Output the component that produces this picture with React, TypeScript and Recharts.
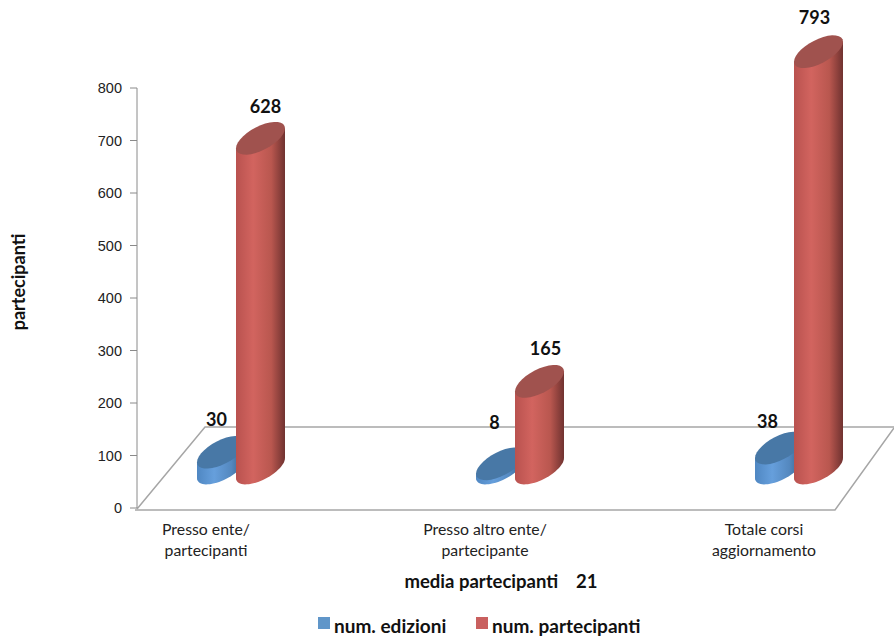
import React from "react";
import { BarChart, Bar, XAxis, YAxis, Legend, Customized } from "recharts";

const categories = ["Presso ente/\npartecipanti", "Presso altro ente/\npartecipante", "Totale corsi\naggiornamento"];
const edizioni = [30, 8, 38];
const partecipanti = [628, 165, 793];
const yTicks = [0, 100, 200, 300, 400, 500, 600, 700, 800];
const seriesNames = ["num. edizioni", "num. partecipanti"];
const xTitle = "media partecipanti    21";
const yTitle = "partecipanti";

// hand placement of the value labels, relative to the centre of each cylinder's top
const edizioniNudge = [[-5, -33], [-6, -42], [-12, -27]];
const partecipantiNudge = [[5, -32], [6, -33], [-4, -35]];

const data = categories.map((name, i) => ({
  name,
  edizioni: edizioni[i],
  partecipanti: partecipanti[i],
}));

const FONT = "Lato, sans-serif";
const W = 894;
const H = 641;
const PLOT = { left: 137, top: 88, right: 835, bottom: 508 };
const LEGEND_H = 24;

// projection of the bars onto the receding floor
const DEPTH_X = 34.5;
const DEPTH_Y = 40;
const RX = 24.5;
const SHEAR = 10;
const MINOR = 13;

const rim = (cx: number, cy: number, from: number, to: number) => {
  const out: string[] = [];
  const steps = 32;
  for (let i = 0; i <= steps; i++) {
    const t = from + ((to - from) * i) / steps;
    const px = cx + RX * Math.cos(t);
    const py = cy - SHEAR * Math.cos(t) + MINOR * Math.sin(t);
    out.push(`${px.toFixed(2)} ${py.toFixed(2)}`);
  }
  return out;
};

const Cylinder = (props: any) => {
  const { x, y, width, height, value, index, gradient, cap, nudge } = props;
  const cx = x + width / 2 + DEPTH_X;
  const top = y - DEPTH_Y;
  const base = y + height - DEPTH_Y;
  const front = rim(cx, base, 0, Math.PI);
  const side =
    `M ${cx - RX} ${top + SHEAR} L ${cx - RX} ${base + SHEAR} L ` +
    front.slice().reverse().join(" L ") +
    ` L ${cx + RX} ${top - SHEAR} Z`;
  const capPath = "M " + rim(cx, top, 0, Math.PI * 2).join(" L ") + " Z";
  const [nx, ny] = nudge[index];
  return (
    <g>
      <path d={side} fill={`url(#${gradient})`} />
      <path d={capPath} fill={cap} />
      <text
        x={cx + nx}
        y={top + ny}
        textAnchor="middle"
        dominantBaseline="central"
        fontFamily={FONT}
        fontWeight={700}
        fontSize={18}
        fill="#111"
      >
        {value}
      </text>
    </g>
  );
};

const Floor = () => (
  <g fill="none" stroke="#a6a6a6" strokeWidth={1.5}>
    <path d={`M ${PLOT.left} ${PLOT.bottom + 1} L 205 427 L 894 427`} />
    <path d={`M ${PLOT.left - 2} ${PLOT.bottom + 2} L ${PLOT.right} ${PLOT.bottom + 2} L 894 428`} />
  </g>
);

const Defs = () => (
  <defs>
    <linearGradient id="bodyBlue" x1="0" x2="1" y1="0" y2="0">
      <stop offset="0" stopColor="#4f87c2" />
      <stop offset="0.35" stopColor="#669fdc" />
      <stop offset="0.7" stopColor="#5488bf" />
      <stop offset="1" stopColor="#33597f" />
    </linearGradient>
    <linearGradient id="bodyRed" x1="0" x2="1" y1="0" y2="0">
      <stop offset="0" stopColor="#b9524f" />
      <stop offset="0.35" stopColor="#d2645f" />
      <stop offset="0.72" stopColor="#b9574f" />
      <stop offset="1" stopColor="#703230" />
    </linearGradient>
  </defs>
);

const CategoryTick = (props: any) => {
  const { x, y, payload } = props;
  const lines = String(payload.value).split("\n");
  return (
    <text x={x} textAnchor="middle" fontFamily={FONT} fontSize={15.8} fill="#222">
      {lines.map((line, i) => (
        <tspan key={line} x={x} y={y + 19 + i * 21}>
          {line}
        </tspan>
      ))}
    </text>
  );
};

const LegendRow = () => {
  const swatches = ["#6096c9", "#c9605f"];
  const lefts = [318, 476];
  return (
    <div>
      {seriesNames.map((name, i) => (
        <div
          key={name}
          style={{
            position: "absolute",
            left: lefts[i],
            top: 0,
            display: "flex",
            alignItems: "center",
            whiteSpace: "nowrap",
            fontFamily: FONT,
            fontWeight: 700,
            fontSize: 19,
            color: "#111",
          }}
        >
          <span style={{ width: 12, height: 12, background: swatches[i], marginRight: 4, marginTop: -5 }} />
          {name}
        </div>
      ))}
    </div>
  );
};

export default function App() {
  return (
    <div style={{ position: "absolute", left: 0, top: 0, width: W, height: H, background: "#fff", overflow: "hidden" }}>
      <BarChart
        width={W}
        height={H}
        data={data}
        barSize={39}
        barGap={0}
        margin={{ top: PLOT.top, left: PLOT.left - 60, right: W - PLOT.right, bottom: 0 }}
      >
        <Customized component={Defs} />
        <Customized component={Floor} />
        <YAxis
          width={60}
          domain={[0, 800]}
          ticks={yTicks}
          interval={0}
          tickLine={{ stroke: "#8a8a8a" }}
          axisLine={{ stroke: "#8a8a8a" }}
          tickSize={7}
          tickMargin={8}
          tick={{ fontFamily: "'Liberation Sans', sans-serif", fontSize: 14.5, fill: "#222" }}
          label={(p: any) => (
            <text
              transform={`translate(18 282) rotate(-90)`}
              textAnchor="middle"
              dominantBaseline="central"
              fontFamily={FONT}
              fontWeight={700}
              fontSize={18}
              fill="#111"
            >
              {yTitle}
            </text>
          )}
        />
        <XAxis
          dataKey="name"
          scale="point"
          padding={{ left: 69, right: 71 }}
          height={H - PLOT.bottom - LEGEND_H}
          interval={0}
          axisLine={false}
          tickLine={false}
          tick={<CategoryTick />}
          label={(p: any) => (
            <text
              x={501}
              y={581}
              textAnchor="middle"
              dominantBaseline="central"
              fontFamily={FONT}
              fontWeight={700}
              fontSize={18.5}
              fill="#111"
              style={{ whiteSpace: "pre" }}
            >
              {xTitle}
            </text>
          )}
        />
        <Bar
          dataKey="edizioni"
          name={seriesNames[0]}
          isAnimationActive={false}
          shape={(p: any) => <Cylinder {...p} gradient="bodyBlue" cap="#4878a6" nudge={edizioniNudge} />}
        />
        <Bar
          dataKey="partecipanti"
          name={seriesNames[1]}
          isAnimationActive={false}
          shape={(p: any) => <Cylinder {...p} gradient="bodyRed" cap="#a0524e" nudge={partecipantiNudge} />}
        />
        <Legend
          content={<LegendRow />}
          wrapperStyle={{ position: "absolute", left: 0, top: 614, bottom: "auto", width: W, height: LEGEND_H }}
        />
      </BarChart>
    </div>
  );
}
